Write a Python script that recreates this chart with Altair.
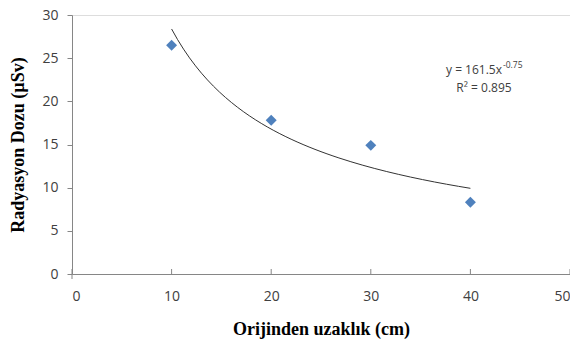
import altair as alt
import pandas as pd

distance = [10, 20, 30, 40]
dose = [26.5, 17.8, 14.9, 8.3]
x_ticks = [0, 10, 20, 30, 40, 50]
y_ticks = [0, 5, 10, 15, 20, 25, 30]
eq_main = "y = 161.5x"
eq_exp = "-0.75"
r2_text = "R² = 0.895"

df = pd.DataFrame({"x": distance, "y": dose})
tick_df = pd.DataFrame({"x": x_ticks})

label_font = "Open Sans"
title_font = "Liberation Serif"
W, H = 498, 259

x_enc = alt.X("x:Q", scale=alt.Scale(domain=[0, 50], nice=False),
              axis=alt.Axis(values=x_ticks, title="Orijinden uzaklık (cm)", grid=False,
                            domainColor="#868686", ticks=False,
                            labelFont=label_font, labelFontSize=14, labelColor="#404040",
                            labelPadding=15, titleFont=title_font, titleFontSize=18,
                            titleFontWeight="bold", titleColor="#000000", titlePadding=17))
y_enc = alt.Y("y:Q", scale=alt.Scale(domain=[0, 30], nice=False),
              axis=alt.Axis(values=y_ticks, title="Radyasyon Dozu (µSv)", grid=False,
                            domainColor="#868686", tickColor="#868686", tickSize=5,
                            labelFont=label_font, labelFontSize=14, labelColor="#404040",
                            labelPadding=9, titleFont=title_font, titleFontSize=18,
                            titleFontWeight="bold", titleColor="#000000", titlePadding=14))

base = alt.Chart(df)

points = base.mark_point(shape="diamond", filled=True, size=120, color="#4F81BD", opacity=1).encode(
    x=x_enc, y=y_enc)

trend = base.transform_regression("x", "y", method="pow", extent=[10, 40]).mark_line(
    color="#333333", strokeWidth=1).encode(x="x:Q", y="y:Q")

xticks = alt.Chart(tick_df).mark_rule(color="#868686", strokeWidth=1).encode(
    x="x:Q", y=alt.value(H - 5), y2=alt.value(H))
stub = alt.Chart(pd.DataFrame({"x": [0]})).mark_rule(color="#868686", strokeWidth=1).encode(
    x="x:Q", y=alt.value(H), y2=alt.value(H + 5))

ann_main = alt.Chart(pd.DataFrame({"t": [eq_main]})).mark_text(
    font=label_font, fontSize=12, color="#404040", align="right", baseline="middle").encode(
    text="t:N", x=alt.value(430), y=alt.value(55))
ann_exp = alt.Chart(pd.DataFrame({"t": [eq_exp]})).mark_text(
    font=label_font, fontSize=8.5, color="#404040", align="left", baseline="middle").encode(
    text="t:N", x=alt.value(431), y=alt.value(50))
ann_r2 = alt.Chart(pd.DataFrame({"t": [r2_text]})).mark_text(
    font=label_font, fontSize=12, color="#404040", align="center", baseline="middle").encode(
    text="t:N", x=alt.value(412), y=alt.value(73))

chart = alt.layer(trend, points, xticks, stub, ann_main, ann_exp, ann_r2).properties(
    width=W, height=H,
    padding={"left": 64, "top": 7, "right": 0, "bottom": 70},
    autosize=alt.AutoSizeParams(type="none"),
).configure_view(stroke=None).configure(background="white")

chart.save("out.html", embed_options={"renderer": "svg", "actions": False})
